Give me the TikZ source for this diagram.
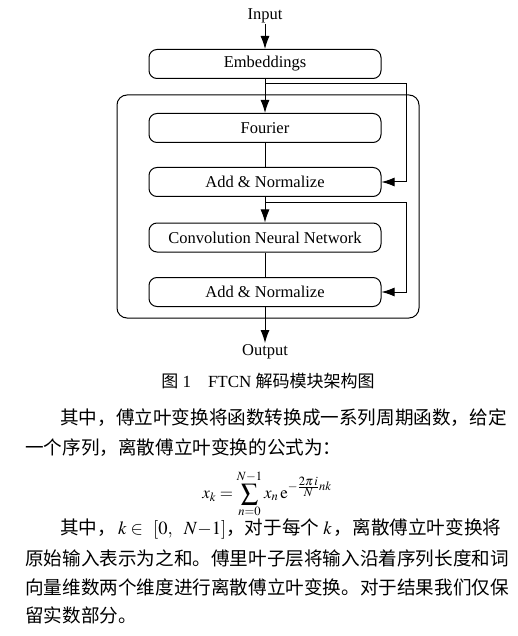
\documentclass[tikz,border=0pt]{standalone}
\usepackage{mathptmx}
\usepackage{fontspec}
\setmainfont{Liberation Serif}
\newfontfamily\cjk{Noto Sans CJK SC}
\usetikzlibrary{positioning}
\usetikzlibrary{arrows.meta}
\usetikzlibrary{calc}
\newcommand\midx{265}
\newcommand\skipx{25}
\tikzset{
    block/.style = {draw, line width=1pt, rounded corners=8pt, minimum width=232pt, minimum height=29pt, font=\fontsize{16.5}{18}\selectfont},
    flow/.style = {line width=1pt, -{Latex[length=13pt,width=9pt]}},
    wire/.style = {line width=1pt},
    label/.style = {font=\fontsize{16.5}{18}\selectfont, inner sep=1pt},
    cjkline/.style = {font=\cjk\fontsize{18.6}{20}\selectfont, anchor=west, inner sep=0pt},
}

\begin{document}
\begin{tikzpicture}[x=1pt,y=-1pt]
         \useasboundingbox (0,0) rectangle (517,636);
         % --- Decoder frame
         \draw[wire, rounded corners=10pt] (117,95) rectangle (419,318);
         % --- Blocks
         \node[label] (input) at (\midx,15.5) {Input};
         \node[block] (emb) at (\midx,64) {Embeddings};
         \node[block] (fourier) at (\midx,128) {Fourier};
         \node[block] (addone) at (\midx,182) {Add \& Normalize};
         \node[block] (cnn) at (\midx,237.5) {Convolution Neural Network};
         \node[block] (addtwo) at (\midx,292) {Add \& Normalize};
         \node[label] (output) at (\midx,351.5) {Output};
         % --- Main path
         \draw[flow] (input) -- (emb);
         \draw[flow] (emb) -- (fourier);
         \draw[wire] (fourier) -- (addone);
         \draw[flow] (addone) -- (cnn);
         \draw[wire] (cnn) -- (addtwo);
         \draw[flow] (addtwo) -- (output);
         % --- Residual paths
         \coordinate (skipone) at (\midx,84);
         \coordinate (skiptwo) at (\midx,203);
         \draw[flow] (skipone) -| ([xshift=\skipx pt]addone.east) -- (addone.east);
         \draw[flow] (skiptwo) -| ([xshift=\skipx pt]addtwo.east) -- (addtwo.east);
         % --- Caption
         \node[font=\fontsize{17}{19}\selectfont, inner sep=0pt] (caption) at (268,381) {{\cjk 图}~1\quad FTCN~{\cjk 解码模块架构图}};
         % --- Text
         \node[cjkline] (lineone) at (60,418) {其中，傅立叶变换将函数转换成一系列周期函数，给定};
         \node[cjkline] (linetwo) at (25,448) {一个序列，离散傅立叶变换的公式为：};
         \node[font=\fontsize{17}{19}\selectfont, inner sep=0pt] (dft) at (267,494) {$\displaystyle x_k=\sum_{n=0}^{N-1}x_n\,\mathrm{e}^{-\frac{\scriptstyle 2\pi\,i}{\scriptstyle N}nk}$};
         \node[cjkline] (linethree) at (60,529) {其中，\hspace{2pt}{\rmfamily$k\mathrel{\in}\hspace{6pt}[0,\hspace{9pt}N{-}1]$}，对于每个\hspace{4pt}{\rmfamily$k$}\hspace{2pt}，离散傅立叶变换将};
         \node[cjkline] (linefour) at (25,558) {原始输入表示为之和。傅里叶子层将输入沿着序列长度和词};
         \node[cjkline] (linefive) at (25,587) {向量维数两个维度进行离散傅立叶变换。对于结果我们仅保};
         \node[cjkline] (linesix) at (25,615) {留实数部分。};
\end{tikzpicture}
\end{document}
